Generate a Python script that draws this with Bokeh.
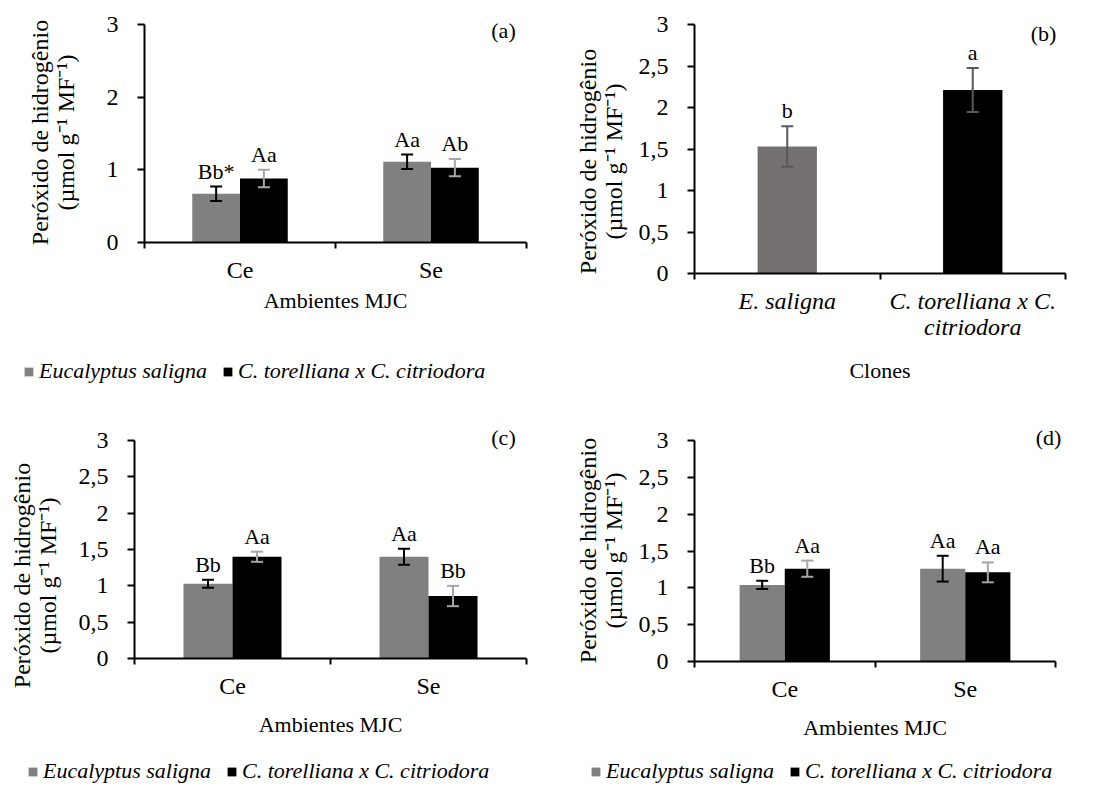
import math
from bokeh.plotting import figure
from bokeh.models import (ColumnDataSource, Range1d, FixedTicker, Whisker, TeeHead,
                          Legend, LegendItem, Label)
from bokeh.layouts import column, row
from bokeh.core.properties import value
from bokeh.embed import file_html
from bokeh.resources import INLINE

# ---------------- data ----------------
ambientes = ["Ce", "Se"]

a_saligna = [0.67, 1.11]
a_saligna_err = [0.10, 0.10]
a_saligna_lbl = ["Bb*", "Aa"]
a_hibrido = [0.88, 1.03]
a_hibrido_err = [0.12, 0.12]
a_hibrido_lbl = ["Aa", "Ab"]

clones = ["E. saligna", "C. torelliana x C.\ncitriodora"]
b_valores = [1.53, 2.21]
b_err = [0.245, 0.265]
b_lbl = ["b", "a"]

c_saligna = [1.03, 1.40]
c_saligna_err = [0.055, 0.11]
c_saligna_lbl = ["Bb", "Aa"]
c_hibrido = [1.40, 0.86]
c_hibrido_err = [0.07, 0.14]
c_hibrido_lbl = ["Aa", "Bb"]

d_saligna = [1.04, 1.26]
d_saligna_err = [0.055, 0.175]
d_saligna_lbl = ["Bb", "Aa"]
d_hibrido = [1.26, 1.21]
d_hibrido_err = [0.11, 0.135]
d_hibrido_lbl = ["Aa", "Aa"]

serie_nomes = ["Eucalyptus saligna", "C. torelliana x C. citriodora"]
y_ticks_a = [0, 1, 2, 3]
y_ticks = [0, 0.5, 1, 1.5, 2, 2.5, 3]
Y_MAX = 3
N_GROUPS = 2

YLABEL = "Peróxido de hidrogênio\n(µmol g\u207b\u00b9 MF\u207b\u00b9)"
FONT = "Liberation Serif"
FS = "22px"
TICK_FS = "24px"
GRAY = "#808080"
GRAY_B = "#767171"
BLACK = "#000000"
ERR_LIGHT = "#a6a6a6"
ERR_B = "#595959"


def fmt(v):
    return ("%g" % v).replace(".", ",")


def base_fig(W, H, ox, oy, x0px, x2px, y0px, y3px, ticks):
    """Frame covers the whole canvas; axes drawn at fixed locations x=0 / y=0."""
    sx = (x2px - x0px) / N_GROUPS
    sy = (y0px - y3px) / Y_MAX
    xr = Range1d((ox - x0px) / sx, (ox + W - x0px) / sx)
    yr = Range1d((y0px - (oy + H)) / sy, (y0px - oy) / sy)
    p = figure(width=W, height=H, output_backend="svg", toolbar_location=None,
               x_range=xr, y_range=yr, min_border=0,
               min_border_left=0, min_border_right=0, min_border_top=0, min_border_bottom=0)
    p.outline_line_color = None
    p.xgrid.visible = False
    p.ygrid.visible = False
    p.background_fill_color = "white"
    p.border_fill_color = "white"
    # y axis
    ya = p.yaxis[0]
    ya.fixed_location = 0
    ya.bounds = (0, Y_MAX)
    ya.ticker = FixedTicker(ticks=ticks)
    ya.major_label_overrides = {t: fmt(t) for t in ticks}
    ya.major_tick_out = 7
    ya.major_tick_in = 0
    ya.minor_tick_line_color = None
    ya.major_tick_line_width = 2
    ya.axis_line_width = 2
    ya.axis_line_color = "black"
    ya.major_tick_line_color = "black"
    ya.major_label_text_font = FONT
    ya.major_label_text_font_size = TICK_FS
    ya.major_label_text_color = "black"
    ya.major_label_standoff = 19
    # x axis
    xa = p.xaxis[0]
    xa.fixed_location = 0
    xa.bounds = (0, N_GROUPS)
    xa.axis_line_width = 2
    xa.axis_line_color = "black"
    xa.major_tick_line_color = None
    xa.major_tick_out = 0
    xa.major_tick_in = 0
    xa.minor_tick_line_color = "black"
    xa.minor_tick_line_width = 2
    xa.minor_tick_out = 6
    xa.minor_tick_in = 0
    xa.major_label_text_font = FONT
    xa.major_label_text_font_size = TICK_FS
    xa.major_label_text_color = "black"
    xa.major_label_standoff = 8
    xa.axis_label_text_font = FONT
    xa.axis_label_text_font_size = FS
    xa.axis_label_text_font_style = "normal"
    xa.axis_label_text_color = "black"
    return p


def tag_label(p, text, sx, sy):
    p.add_layout(Label(x=sx, y=sy, x_units="screen", y_units="screen", text=text,
                       text_font=FONT, text_font_size=FS, text_color="black",
                       text_align="center", text_baseline="middle"))


def y_title(p, sx, sy):
    p.add_layout(Label(x=sx, y=sy, x_units="screen", y_units="screen", text=YLABEL,
                       angle=math.pi / 2, text_font=FONT, text_font_size="24px",
                       text_color="black", text_align="center", text_baseline="middle",
                       text_line_height=1.0))


def grouped(p, sal, sal_err, sal_lbl, hib, hib_err, hib_lbl, leg_x, leg_y, width=0.25):
    centers = [i + 0.5 for i in range(len(ambientes))]
    xa = p.xaxis[0]
    xa.ticker = FixedTicker(ticks=centers, minor_ticks=list(range(len(ambientes) + 1)))
    xa.major_label_overrides = {c: a for c, a in zip(centers, ambientes)}
    xa.axis_label = "Ambientes MJC"

    renderers = []
    for vals, errs, lbls, off, col, ecol in [
        (sal, sal_err, sal_lbl, -width / 2, GRAY, BLACK),
        (hib, hib_err, hib_lbl, width / 2, BLACK, ERR_LIGHT),
    ]:
        src = ColumnDataSource(dict(
            x=[c + off for c in centers], top=vals,
            upper=[v + e for v, e in zip(vals, errs)],
            lower=[v - e for v, e in zip(vals, errs)],
            lbl=lbls))
        r = p.vbar(x="x", top="top", width=width, bottom=0, source=src,
                   fill_color=col, line_color=None)
        renderers.append(r)
        w = Whisker(source=src, base="x", upper="upper", lower="lower",
                    line_color=ecol, line_width=2, level="overlay",
                    upper_head=TeeHead(size=12, line_color=ecol, line_width=2),
                    lower_head=TeeHead(size=12, line_color=ecol, line_width=2))
        p.add_layout(w)
        p.text(x="x", y="upper", text="lbl", source=src, text_font=value(FONT),
               text_font_size=FS, text_color="black", text_align="center",
               text_baseline="bottom", y_offset=-3)

    legend = Legend(items=[LegendItem(label=serie_nomes[0], renderers=[renderers[0]]),
                           LegendItem(label=serie_nomes[1], renderers=[renderers[1]])],
                    location=(leg_x, leg_y), orientation="horizontal",
                    glyph_width=11, glyph_height=11, label_standoff=5, spacing=15,
                    padding=0, margin=0, border_line_color=None,
                    background_fill_alpha=0,
                    label_text_font=FONT, label_text_font_size=FS,
                    label_text_font_style="italic", label_text_color="black")
    p.add_layout(legend)


# ---------------- panel (a) ----------------
pa = base_fig(543, 392, 0, 0, 144, 526, 242, 24, y_ticks_a)
pa.xaxis[0].axis_label_standoff = 2
grouped(pa, a_saligna, a_saligna_err, a_saligna_lbl, a_hibrido, a_hibrido_err, a_hibrido_lbl,
        23, 8)
tag_label(pa, "(a)", 503, 362)
y_title(pa, 52, 260)

# ---------------- panel (b) ----------------
pb = base_fig(543, 392, 543, 0, 694, 1065, 273, 24, y_ticks)
centers_b = [i + 0.5 for i in range(len(clones))]
xb = pb.xaxis[0]
xb.ticker = FixedTicker(ticks=centers_b, minor_ticks=list(range(len(clones) + 1)))
xb.major_label_overrides = {c: n for c, n in zip(centers_b, clones)}
xb.major_label_text_font_style = "italic"
xb.major_label_text_line_height = 1.0
xb.axis_label = "Clones"
xb.axis_label_standoff = 15
src_b = ColumnDataSource(dict(x=centers_b, top=b_valores,
                              upper=[v + e for v, e in zip(b_valores, b_err)],
                              lower=[v - e for v, e in zip(b_valores, b_err)],
                              lbl=b_lbl, color=[GRAY_B, BLACK]))
pb.vbar(x="x", top="top", width=0.32, bottom=0, source=src_b, fill_color="color", line_color=None)
pb.add_layout(Whisker(source=src_b, base="x", upper="upper", lower="lower",
                      line_color=ERR_B, line_width=2, level="overlay",
                      upper_head=TeeHead(size=12, line_color=ERR_B, line_width=2),
                      lower_head=TeeHead(size=12, line_color=ERR_B, line_width=2)))
pb.text(x="x", y="upper", text="lbl", source=src_b, text_font=value(FONT),
        text_font_size=FS, text_color="black", text_align="center",
        text_baseline="bottom", y_offset=-3)
tag_label(pb, "(b)", 500, 359)
y_title(pb, 57, 231)

# ---------------- panel (c) ----------------
pc = base_fig(543, 393, 0, 392, 134, 526, 658, 440, y_ticks)
pc.xaxis[0].axis_label_standoff = 10
grouped(pc, c_saligna, c_saligna_err, c_saligna_lbl, c_hibrido, c_hibrido_err, c_hibrido_lbl,
        27, 1)
tag_label(pc, "(c)", 503, 348)
y_title(pc, 34, 210)

# ---------------- panel (d) ----------------
pd_ = base_fig(543, 393, 543, 392, 694, 1055, 661, 440, y_ticks)
pd_.xaxis[0].axis_label_standoff = 10
grouped(pd_, d_saligna, d_saligna_err, d_saligna_lbl, d_hibrido, d_hibrido_err, d_hibrido_lbl,
        47, 1)
tag_label(pd_, "(d)", 505, 348)
y_title(pd_, 57, 235)

layout = column(row(pa, pb), row(pc, pd_))
open("out.html", "w").write(file_html(layout, INLINE))
